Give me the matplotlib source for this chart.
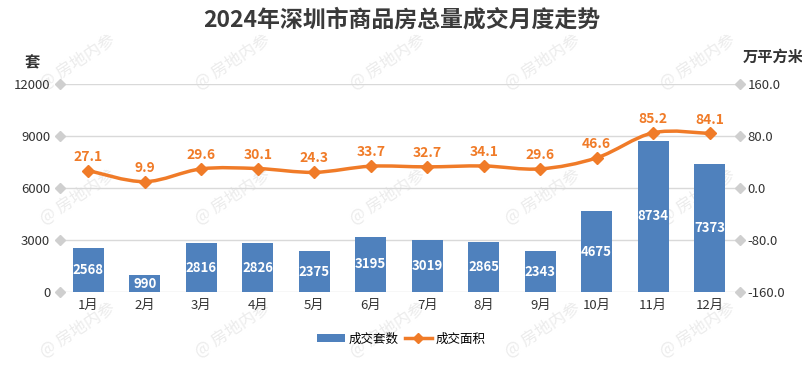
import matplotlib
matplotlib.use("Agg")
import matplotlib.pyplot as plt
from matplotlib.path import Path
from matplotlib.patches import PathPatch
import matplotlib.transforms as mtransforms
from matplotlib.lines import Line2D
from matplotlib.patches import Patch

plt.rcParams['font.family'] = ['Noto Sans CJK SC', 'DejaVu Sans']
plt.rcParams['axes.unicode_minus'] = False

months = ['1月', '2月', '3月', '4月', '5月', '6月', '7月', '8月', '9月', '10月', '11月', '12月']
units = [2568, 990, 2816, 2826, 2375, 3195, 3019, 2865, 2343, 4675, 8734, 7373]
area = [27.1, 9.9, 29.6, 30.1, 24.3, 33.7, 32.7, 34.1, 29.6, 46.6, 85.2, 84.1]
left_ticks = [0, 3000, 6000, 9000, 12000]
right_ticks = [-160, -80, 0, 80, 160]

bar_color = '#4f81bd'
line_color = '#f07b28'
text_color = '#333333'

fig = plt.figure(figsize=(8.03, 3.74), dpi=100)

# watermarks, behind everything
for wy in [62, 197, 330]:
    for wx in [78, 233, 388, 543, 698]:
        fig.text(wx / 803, 1 - wy / 374, '@ 房地内参', fontsize=12, color='#ececec',
                 rotation=33, ha='center', va='center', zorder=-5)

ax = fig.add_axes([0.0747, 0.219, 0.8443, 0.556])
ax2 = ax.twinx()
ax.patch.set_visible(False)
ax2.patch.set_visible(False)

x = list(range(len(months)))
ax.bar(x, units, width=0.55, color=bar_color, zorder=3)
for i, v in enumerate(units):
    ax.text(i, v / 2, str(v), color='white', fontsize=9.5, fontweight='bold',
            ha='center', va='center', zorder=4)

ax.set_xlim(-0.5, len(months) - 0.5)
ax.set_ylim(0, 12000)
ax.set_yticks(left_ticks)
ax.set_yticklabels([str(t) for t in left_ticks], fontsize=9.5, color=text_color)
ax.set_xticks(x)
ax.set_xticklabels(months, fontsize=9.5, color=text_color)
ax.tick_params(axis='x', length=0, pad=5)
ax.tick_params(axis='y', length=0, pad=7)
for t in left_ticks:
    ax.axhline(t, color='#d9d9d9', lw=1, zorder=1)
for s in ax.spines.values():
    s.set_visible(False)

ax2.set_ylim(-160, 160)
ax2.set_yticks(right_ticks)
ax2.set_yticklabels(['%.1f' % t for t in right_ticks], fontsize=9.5, color=text_color)
ax2.tick_params(axis='y', length=0, pad=7)
for s in ax2.spines.values():
    s.set_visible(False)

# tick diamonds
tl = mtransforms.blended_transform_factory(ax.transAxes, ax.transData)
ax.plot([0] * len(left_ticks), left_ticks, 'D', ms=5, color='#cfcfcf', transform=tl, clip_on=False, zorder=2)
tr = mtransforms.blended_transform_factory(ax2.transAxes, ax2.transData)
ax2.plot([1.003] * len(right_ticks), right_ticks, 'D', ms=5, color='#cfcfcf', transform=tr, clip_on=False, zorder=2)

# smooth line (Catmull-Rom as cubic bezier)
pts = list(zip(x, area))
verts = [pts[0]]
codes = [Path.MOVETO]
n = len(pts)
for i in range(n - 1):
    p0 = pts[i - 1] if i > 0 else pts[i]
    p1 = pts[i]
    p2 = pts[i + 1]
    p3 = pts[i + 2] if i + 2 < n else pts[i + 1]
    c1 = (p1[0] + (p2[0] - p0[0]) / 6, p1[1] + (p2[1] - p0[1]) / 6)
    c2 = (p2[0] - (p3[0] - p1[0]) / 6, p2[1] - (p3[1] - p1[1]) / 6)
    verts += [c1, c2, p2]
    codes += [Path.CURVE4] * 3
ax2.add_patch(PathPatch(Path(verts, codes), facecolor='none', edgecolor=line_color, lw=2.5, zorder=5))
ax2.plot(x, area, 'D', ms=6, color=line_color, zorder=6)
for i, v in enumerate(area):
    ax2.annotate('%.1f' % v, (i, v), xytext=(0, 5), textcoords='offset points',
                 ha='center', va='bottom', fontsize=10, fontweight='bold', color=line_color)

fig.text(0.5, 1 - 20 / 374, '2024年深圳市商品房总量成交月度走势', fontsize=16.5, fontweight='bold',
         ha='center', va='center', color='#3a3a3a')
fig.text(32 / 803, 1 - 62 / 374, '套', fontsize=11, fontweight='bold', ha='center', va='center', color=text_color)
fig.text(773 / 803, 1 - 57 / 374, '万平方米', fontsize=11, fontweight='bold', ha='center', va='center', color=text_color)

handles = [Patch(facecolor=bar_color, label='成交套数'),
           Line2D([0], [0], color=line_color, lw=2.5, marker='D', ms=5, label='成交面积')]
fig.legend(handles=handles, loc='center', bbox_to_anchor=(0.5, 1 - 339 / 374), ncol=2,
           frameon=False, fontsize=9, handlelength=2.2, handleheight=0.55,
           handletextpad=0.3, columnspacing=0.5)

fig.savefig('out.png', dpi=100)
